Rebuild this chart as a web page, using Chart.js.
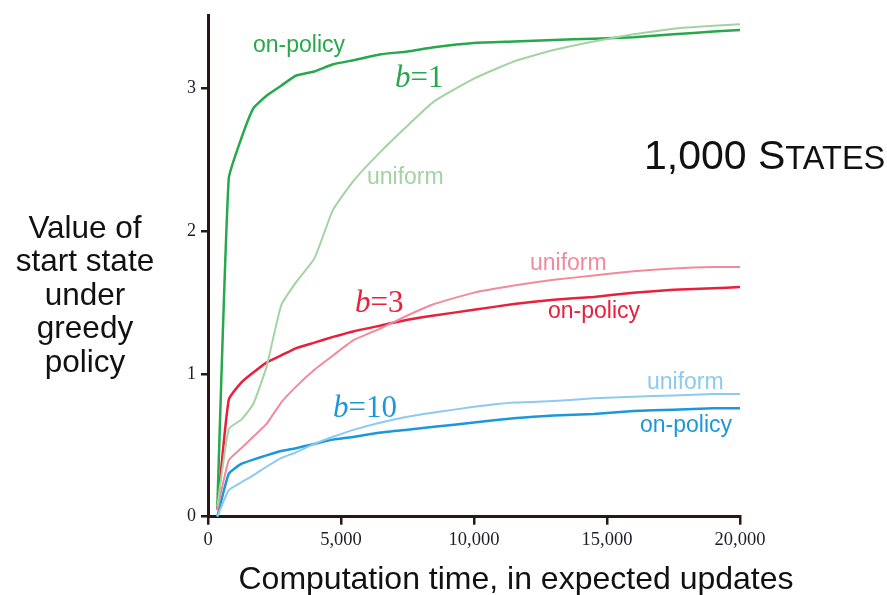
<!DOCTYPE html>
<html>
<head>
<meta charset="utf-8">
<script src="https://cdn.jsdelivr.net/npm/chart.js@4"></script>
<style>
  html, body { margin: 0; padding: 0; background: #ffffff; }
  canvas { display: block; }
</style>
</head>
<body>
<canvas id="c" width="887" height="595"></canvas>
<script>
// ---- data ----
const computationTime = [350, 780, 1250, 1700, 2200, 2750, 3300, 4000, 4700, 5500, 6500, 7500, 8500, 10000, 11500, 13000, 14500, 16000, 17500, 19000, 20000];
const b1OnPolicy  = [0.07, 2.37, 2.65, 2.86, 2.95, 3.02, 3.09, 3.12, 3.17, 3.20, 3.24, 3.26, 3.29, 3.32, 3.33, 3.34, 3.35, 3.36, 3.38, 3.40, 3.41];
const b1Uniform   = [0.07, 0.615, 0.68, 0.79, 1.05, 1.48, 1.64, 1.81, 2.15, 2.36, 2.56, 2.74, 2.91, 3.07, 3.19, 3.27, 3.33, 3.38, 3.42, 3.44, 3.45];
const b3OnPolicy  = [0.05, 0.82, 0.94, 1.01, 1.08, 1.13, 1.18, 1.22, 1.26, 1.30, 1.34, 1.38, 1.41, 1.45, 1.49, 1.52, 1.54, 1.57, 1.59, 1.60, 1.61];
const b3Uniform   = [0.05, 0.395, 0.48, 0.56, 0.65, 0.80, 0.91, 1.03, 1.13, 1.24, 1.32, 1.41, 1.49, 1.57, 1.62, 1.66, 1.69, 1.72, 1.74, 1.75, 1.75];
const b10OnPolicy = [0.0, 0.30, 0.37, 0.40, 0.43, 0.46, 0.48, 0.51, 0.54, 0.56, 0.59, 0.61, 0.63, 0.66, 0.69, 0.71, 0.72, 0.74, 0.75, 0.76, 0.76];
const b10Uniform  = [0.0, 0.186, 0.24, 0.29, 0.35, 0.41, 0.45, 0.51, 0.56, 0.61, 0.66, 0.70, 0.73, 0.77, 0.80, 0.81, 0.83, 0.84, 0.85, 0.86, 0.86];
const xTickValues = [0, 5000, 10000, 15000, 20000];
const yTickValues = [0, 1, 2, 3];

// ---- styles ----
const AXIS = '#2a1616';
const TICKTXT = '#1c1c2c';
const C = {
  gOn: '#27a84c', gUni: '#a3d3a3',
  rOn: '#e8203c', rUni: '#f28a9c',
  bOn: '#1c98da', bUni: '#8ecaf0'
};

function pts(ys) { return computationTime.map((x, i) => ({ x: x, y: ys[i] })); }
function ds(label, ys, color, w) {
  return { label, data: pts(ys), borderColor: color, backgroundColor: color,
           borderWidth: w, pointRadius: 0, tension: 0.15, fill: false };
}

const labels = [
  { text: 'on-policy', x: 253, y: 52, color: C.gOn },
  { text: 'uniform',   x: 367, y: 184, color: C.gUni },
  { text: 'uniform',   x: 530, y: 270, color: C.rUni },
  { text: 'on-policy', x: 548, y: 318, color: C.rOn },
  { text: 'uniform',   x: 647, y: 389, color: C.bUni },
  { text: 'on-policy', x: 640, y: 432, color: C.bOn }
];
const bLabels = [
  { num: '1',  x: 395, y: 87,  color: C.gOn },
  { num: '3',  x: 355, y: 312, color: C.rOn },
  { num: '10', x: 333, y: 417, color: C.bOn }
];

const textPlugin = {
  id: 'texts',
  afterDraw(chart) {
    const ctx = chart.ctx;
    ctx.save();
    ctx.textBaseline = 'alphabetic';
    ctx.textAlign = 'left';
    ctx.font = '23px "Liberation Sans", Arial, sans-serif';
    labels.forEach(l => { ctx.fillStyle = l.color; ctx.fillText(l.text, l.x, l.y); });
    bLabels.forEach(l => {
      ctx.fillStyle = l.color;
      ctx.font = 'italic 31px "Liberation Serif", "Times New Roman", serif';
      ctx.fillText('b', l.x, l.y);
      const w = ctx.measureText('b').width;
      ctx.font = '31px "Liberation Serif", "Times New Roman", serif';
      ctx.fillText('=' + l.num, l.x + w, l.y);
    });
    // 1,000 STATES with small caps
    ctx.fillStyle = '#111111';
    ctx.font = '41px "Liberation Sans", Arial, sans-serif';
    let x = 644;
    ctx.fillText('1,000 S', x, 169);
    x += ctx.measureText('1,000 S').width;
    ctx.font = '32.5px "Liberation Sans", Arial, sans-serif';
    ctx.fillText('TATES', x, 169);
    // y title
    ctx.textAlign = 'center';
    ctx.font = '31.5px "Liberation Sans", Arial, sans-serif';
    const yTitle = ['Value of', 'start state', 'under', 'greedy', 'policy'];
    yTitle.forEach((t, i) => ctx.fillText(t, 85, 238 + i * 33.4));
    // x title
    ctx.font = '32px "Liberation Sans", Arial, sans-serif';
    ctx.fillText('Computation time, in expected updates', 516, 589);
    ctx.restore();
  }
};

new Chart(document.getElementById('c'), {
  type: 'line',
  data: {
    datasets: [
      ds('b=1 uniform', b1Uniform, C.gUni, 2),
      ds('b=3 uniform', b3Uniform, C.rUni, 2),
      ds('b=10 uniform', b10Uniform, C.bUni, 2),
      ds('b=1 on-policy', b1OnPolicy, C.gOn, 2.5),
      ds('b=3 on-policy', b3OnPolicy, C.rOn, 2.5),
      ds('b=10 on-policy', b10OnPolicy, C.bOn, 2.5)
    ]
  },
  options: {
    responsive: false,
    animation: false,
    layout: { padding: { left: 0, right: 147, top: 13, bottom: 0 } },
    plugins: { legend: { display: false }, tooltip: { enabled: false }, title: { display: false } },
    scales: {
      x: {
        type: 'linear', min: 0, max: 20000,
        afterBuildTicks: s => { s.ticks = xTickValues.map(v => ({ value: v })); },
        afterFit: s => { s.height = 78.3; },
        grid: { display: true, drawOnChartArea: false, drawTicks: true, tickLength: 8, color: AXIS, lineWidth: 2.5 },
        border: { display: true, color: AXIS, width: 3 },
        ticks: {
          autoSkip: false, maxRotation: 0, padding: 4, color: TICKTXT,
          font: { family: '"Liberation Serif", "Times New Roman", serif', size: 18.5 },
          callback: v => Number(v).toLocaleString('en-US')
        }
      },
      y: {
        type: 'linear', min: 0, max: 3.51,
        afterBuildTicks: s => { s.ticks = yTickValues.map(v => ({ value: v })); },
        afterFit: s => { s.width = 208; },
        grid: { display: true, drawOnChartArea: false, drawTicks: true, tickLength: 7, color: AXIS, lineWidth: 2.5 },
        border: { display: true, color: AXIS, width: 3 },
        ticks: {
          padding: 5, color: TICKTXT,
          font: { family: '"Liberation Serif", "Times New Roman", serif', size: 18 },
          callback: v => String(v)
        }
      }
    }
  },
  plugins: [textPlugin]
});
</script>
</body>
</html>
